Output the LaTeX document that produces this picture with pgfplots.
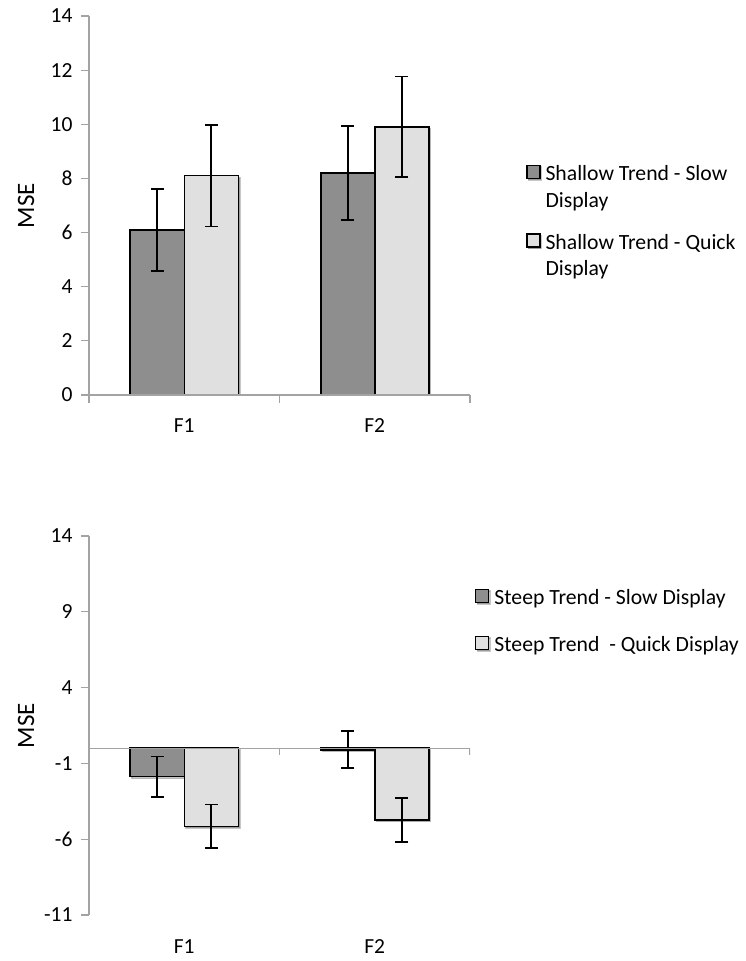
\documentclass[border=0pt]{standalone}
\usepackage{fontspec}
\setmainfont{Carlito}
\usepackage{pgfplots}
\usepackage{pgfplotstable}
\pgfplotsset{compat=1.18}
\usetikzlibrary{shadows}

\definecolor{axisgray}{HTML}{A3A3A3}
\definecolor{slowfill}{HTML}{8E8E8E}
\definecolor{quickfill}{HTML}{E0E0E0}

\newcommand{\tickfont}{\fontsize{21.5}{26}\selectfont}
\newcommand{\keyfont}{\fontsize{21.7}{26.5}\selectfont}

% columns: category position, mean MSE, error half-width
\pgfplotstableread{
x y e
0 6.10 1.52
1 8.20 1.74
}\shallowslow
\pgfplotstableread{
x y e
0 8.10 1.88
1 9.90 1.86
}\shallowquick
\pgfplotstableread{
x y e
0 -1.88 1.34
1 -0.10 1.22
}\steepslow
\pgfplotstableread{
x y e
0 -5.15 1.44
1 -4.73 1.45
}\steepquick

\pgfplotsset{
  msepanel/.style={
    scale only axis, width=381pt, height=379pt,
    xmin=-0.5, xmax=1.5,
    ybar=0pt, bar width=54pt,
    axis lines*=left,
    axis line style={axisgray, line width=1.2pt},
    tick align=outside,
    major tick length=8pt, minor tick length=8pt,
    tick style={axisgray, line width=1.2pt},
    major x tick style={draw=none},
    /pgf/number format/assume math mode=true,
    xticklabel style={font=\tickfont, text=black, anchor=base, yshift=-30pt},
    yticklabel style={font=\tickfont, text=black, anchor=east, xshift=-5pt},
    xtick={0,1}, xticklabels={F1,F2},
    ylabel={MSE},
    ylabel style={font=\fontsize{25}{30}\selectfont,
      at={(axis description cs:-0.165,0.5)}, anchor=center},
    legend style={draw=none, fill=none, inner sep=0pt, column sep=5pt,
      font=\keyfont, nodes={inner sep=0pt},
      cells={anchor=west, align=left}},
  },
  % key square level with a one-line entry
  keybox/.style={legend image code/.code={
      \draw[#1, line width=1.3pt] (0pt,-4.5pt) rectangle (13pt,8.5pt);}},
  % key square level with the first line of a two-line entry
  keyboxtwo/.style={legend image code/.code={
      \draw[#1, line width=1.3pt] (0pt,8.8pt) rectangle (13pt,21.8pt);}},
  msebar/.style={draw=black, line width=1.5pt, fill=#1,
    drop shadow={shadow xshift=1.6pt, shadow yshift=-1.6pt,
      fill=black, opacity=0.22},
    error bars/.cd, y dir=both, y explicit,
    error bar style={black, line width=1.7pt},
    error mark options={black, rotate=90, mark size=6.5pt, line width=1.7pt}},
}

\begin{document}
\begin{tikzpicture}
\useasboundingbox (0,0) rectangle (746pt,961pt);

% shallow trend
\begin{axis}[msepanel, at={(89pt,566pt)}, anchor=south west,
    ymin=0, ymax=14, ytick={0,2,...,14},
    minor xtick={-0.5,0.5,1.5}, axis on top,
    legend style={at={(axis description cs:1.147,0.608)}, anchor=north west,
      row sep=24.6pt}]
  \addplot[keyboxtwo, msebar=slowfill] table[x=x, y=y, y error=e] {\shallowslow};
  \addlegendentry{Shallow Trend - Slow\\Display}
  \addplot[keyboxtwo, msebar=quickfill] table[x=x, y=y, y error=e] {\shallowquick};
  \addlegendentry{Shallow Trend - Quick\\Display}
\end{axis}

% steep trend
\begin{axis}[msepanel, at={(89pt,46pt)}, anchor=south west,
    ymin=-11, ymax=14, ytick={-11,-6,...,14},
    x axis line style={draw=none},
    legend style={at={(axis description cs:1.013,0.861)}, anchor=north west,
      row sep=29.5pt}]
  \addplot[keybox, msebar=slowfill] table[x=x, y=y, y error=e] {\steepslow};
  \addlegendentry{Steep Trend - Slow Display}
  \addplot[keybox, msebar=quickfill] table[x=x, y=y, y error=e] {\steepquick};
  \addlegendentry{Steep Trend~ - Quick Display}
  % zero line with category dividers
  \draw[axisgray, line width=1.2pt] (axis cs:-0.5,0) -- (axis cs:1.5,0);
  \draw[axisgray, line width=1.2pt] (axis cs:0.5,0) -- ++(0pt,-7pt);
  \draw[axisgray, line width=1.2pt] (axis cs:1.5,0) -- ++(0pt,-7pt);
\end{axis}
\end{tikzpicture}
\end{document}
